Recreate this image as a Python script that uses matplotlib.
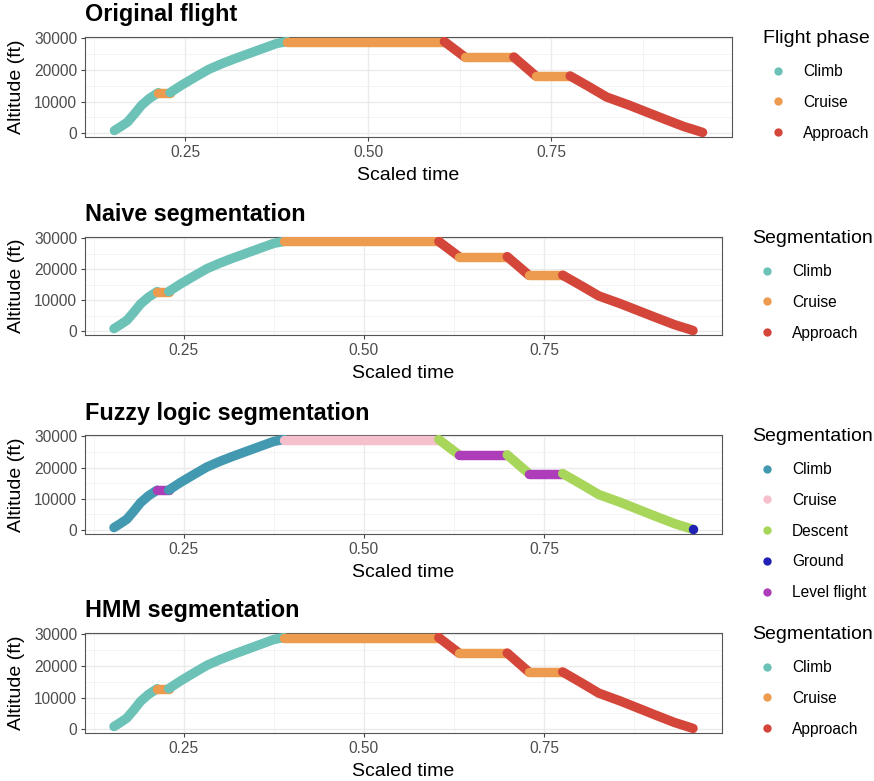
import matplotlib
matplotlib.use("Agg")
import matplotlib.pyplot as plt
from matplotlib.lines import Line2D

plt.rcParams['font.family'] = ['Liberation Sans', 'DejaVu Sans']

W, H = 874, 781

# flight profile (scaled time, altitude in ft)
time = [0.153, 0.162, 0.171, 0.181, 0.190, 0.201, 0.213, 0.229, 0.245, 0.264,
        0.282, 0.301, 0.319, 0.338, 0.357, 0.375, 0.389, 0.604, 0.632, 0.699,
        0.729, 0.776, 0.801, 0.826, 0.857, 0.880, 0.903, 0.931, 0.949, 0.957]
altitude = [800, 2100, 3500, 6200, 8800, 11000, 12800, 12800, 15200, 17800,
            20200, 22100, 23700, 25300, 26900, 28400, 29000, 29000, 24100, 24100,
            18100, 18100, 14800, 11400, 8800, 6700, 4600, 2100, 800, 200]

# runs of phases: (label, first waypoint, last waypoint)
original_runs = [("Climb", 0, 6), ("Cruise", 6, 7), ("Climb", 7, 16), ("Cruise", 16, 17),
                 ("Approach", 17, 18), ("Cruise", 18, 19), ("Approach", 19, 20),
                 ("Cruise", 20, 21), ("Approach", 21, 29)]
naive_runs = original_runs
hmm_runs = original_runs
fuzzy_runs = [("Climb", 0, 6), ("Level flight", 6, 7), ("Climb", 7, 16), ("Cruise", 16, 17),
              ("Descent", 17, 18), ("Level flight", 18, 19), ("Descent", 19, 20),
              ("Level flight", 20, 21), ("Descent", 21, 29), ("Ground", 29, 29)]

phase_colors = {"Climb": "#6CC2B7", "Cruise": "#EC9B4F", "Approach": "#D4463A"}
fuzzy_colors = {"Climb": "#4299B0", "Cruise": "#F5BFCB", "Descent": "#A8D65B",
                "Ground": "#2121B5", "Level flight": "#AE3DBA"}

panels = [
    ("Original flight", original_runs, phase_colors, "Flight phase", (85, 37, 732, 137), 763),
    ("Naive segmentation", naive_runs, phase_colors, "Segmentation", (85, 237, 722, 335), 752),
    ("Fuzzy logic segmentation", fuzzy_runs, fuzzy_colors, "Segmentation", (85, 435, 722, 534), 752),
    ("HMM segmentation", hmm_runs, phase_colors, "Segmentation", (85, 633, 722, 733), 752),
]

fig = plt.figure(figsize=(W / 100, H / 100), dpi=100)

# ggplot-like 5% expansion
tpad = (max(time) - min(time)) * 0.05

for title, runs, colors, leg_title, (l, t, r, b), leg_x in panels:
    ax = fig.add_axes([l / W, 1 - b / H, (r - l) / W, (b - t) / H])
    for name, i0, i1 in runs:
        if i0 == i1:
            ax.plot([time[i0]], [altitude[i0]], 'o', ms=6.8, color=colors[name],
                    mec='none', zorder=3)
        else:
            ax.plot(time[i0:i1 + 1], altitude[i0:i1 + 1], color=colors[name], lw=6.8,
                    solid_capstyle='round', solid_joinstyle='round', zorder=3)
    ax.set_xlim(min(time) - tpad, max(time) + tpad)
    ax.set_ylim(-1250, 30450)
    ax.set_xticks([0.25, 0.50, 0.75])
    ax.set_xticks([0.125, 0.375, 0.625, 0.875], minor=True)
    ax.set_yticks([0, 10000, 20000, 30000])
    ax.set_yticks([5000, 15000, 25000], minor=True)
    ax.set_xticklabels(["0.25", "0.50", "0.75"])
    ax.grid(which='major', color='#EBEBEB', lw=1.0, zorder=0)
    ax.grid(which='minor', color='#EFEFEF', lw=0.5, zorder=0)
    ax.set_axisbelow(True)
    ax.tick_params(which='major', length=3, width=0.8, color='#444444',
                   labelcolor='#4D4D4D', labelsize=11.2, pad=2.5)
    ax.tick_params(which='minor', length=0)
    for s in ax.spines.values():
        s.set_color('#555555')
        s.set_linewidth(0.8)
    h = b - t
    w = r - l
    ax.text(0, 1 + 15.5 / h, title, transform=ax.transAxes, fontsize=16.8,
            fontweight='bold', ha='left', va='baseline')
    ax.set_xlabel("Scaled time", fontsize=14)
    ax.xaxis.set_label_coords(0.5, -43 / h)
    ax.xaxis.label.set_va('baseline')
    ax.set_ylabel("Altitude (ft)", fontsize=14)
    ax.yaxis.set_label_coords((17 - l) / w, 0.5)
    ax.yaxis.label.set_va('center')

    # legend drawn by hand in figure pixels
    names = list(colors.keys())
    fig.text(leg_x / W, 1 - (t + 6.3) / H, leg_title, fontsize=14, ha='left', va='baseline')
    for k, name in enumerate(names):
        cy = t + 33.5 + 30.8 * k
        fig.add_artist(Line2D([(leg_x + 15) / W], [1 - cy / H], marker='o', ms=6,
                              color=colors[name], mec='none', ls='none',
                              transform=fig.transFigure))
        fig.text((leg_x + 40) / W, 1 - (cy + 5.5) / H, name, fontsize=11.2,
                 ha='left', va='baseline')

fig.savefig("out.png", dpi=100)
